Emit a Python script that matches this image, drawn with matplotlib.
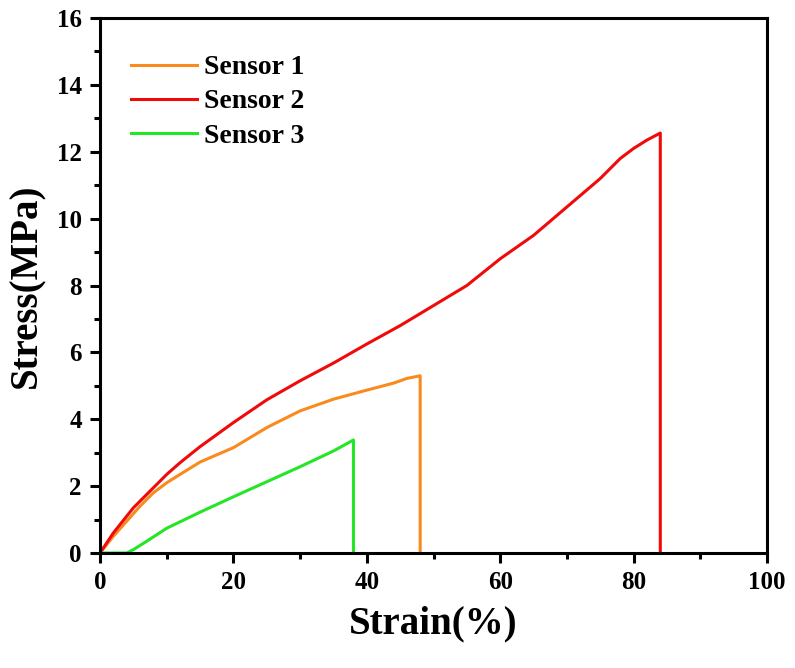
import matplotlib
matplotlib.use('Agg')
import matplotlib.pyplot as plt
from matplotlib.ticker import MultipleLocator

# stress-strain curves (strain %, stress MPa)
s1_strain = [0, 2, 4, 6, 8, 10, 12, 15, 20, 25, 30, 35, 40, 44, 46, 48, 48]
s1_stress = [0, 0.5, 0.95, 1.4, 1.8, 2.1, 2.35, 2.72, 3.15, 3.75, 4.25, 4.6, 4.87, 5.08, 5.22, 5.3, 0]

s2_strain = [0, 2, 5, 8, 10, 12, 15, 20, 25, 30, 35, 40, 45, 50, 55, 60, 65, 70, 75, 78, 80, 82, 84, 84]
s2_stress = [0, 0.6, 1.35, 1.95, 2.35, 2.7, 3.18, 3.9, 4.58, 5.15, 5.68, 6.25, 6.8, 7.4, 8.0, 8.8,
             9.5, 10.35, 11.2, 11.8, 12.1, 12.35, 12.56, 0]

s3_strain = [0, 4, 5, 7, 10, 15, 20, 25, 30, 35, 38, 38]
s3_stress = [0, 0, 0.1, 0.35, 0.74, 1.22, 1.68, 2.13, 2.58, 3.05, 3.38, 0]

labels = ['Sensor 1', 'Sensor 2', 'Sensor 3']
colors = ['#FA8A1E', '#F00A0A', '#25E625']

plt.rcParams['font.family'] = ['Liberation Serif', 'DejaVu Serif']
plt.rcParams['font.weight'] = 'bold'

fig = plt.figure(figsize=(7.95, 6.68), dpi=100)
ax = fig.add_axes([0.1258, 0.1722, 0.839, 0.8008])

ax.plot(s1_strain, s1_stress, color=colors[0], lw=2.2, label=labels[0])
ax.plot(s2_strain, s2_stress, color=colors[1], lw=2.2, label=labels[1])
ax.plot(s3_strain, s3_stress, color=colors[2], lw=2.2, label=labels[2])

ax.set_xlim(0, 100)
ax.set_ylim(0, 16)
ax.xaxis.set_major_locator(MultipleLocator(20))
ax.xaxis.set_minor_locator(MultipleLocator(10))
ax.yaxis.set_major_locator(MultipleLocator(2))
ax.yaxis.set_minor_locator(MultipleLocator(1))

for sp in ax.spines.values():
    sp.set_linewidth(2.2)
ax.tick_params(which='major', direction='out', length=7, width=2.2, labelsize=18, pad=6)
ax.tick_params(which='minor', direction='out', length=4, width=2.2)
for lab in ax.get_xticklabels() + ax.get_yticklabels():
    lab.set_fontweight('bold')

ax.set_xlabel('Strain(%)', fontsize=28, fontweight='bold', labelpad=8)
ax.set_ylabel('Stress(MPa)', fontsize=28, fontweight='bold', labelpad=8)

leg = ax.legend(loc='upper left', bbox_to_anchor=(0.047, 0.931), frameon=False,
                prop={'size': 20, 'weight': 'bold'}, handlelength=2.35,
                handletextpad=0.25, labelspacing=0.31, borderaxespad=0, borderpad=0)

fig.savefig('out.png', dpi=100)
